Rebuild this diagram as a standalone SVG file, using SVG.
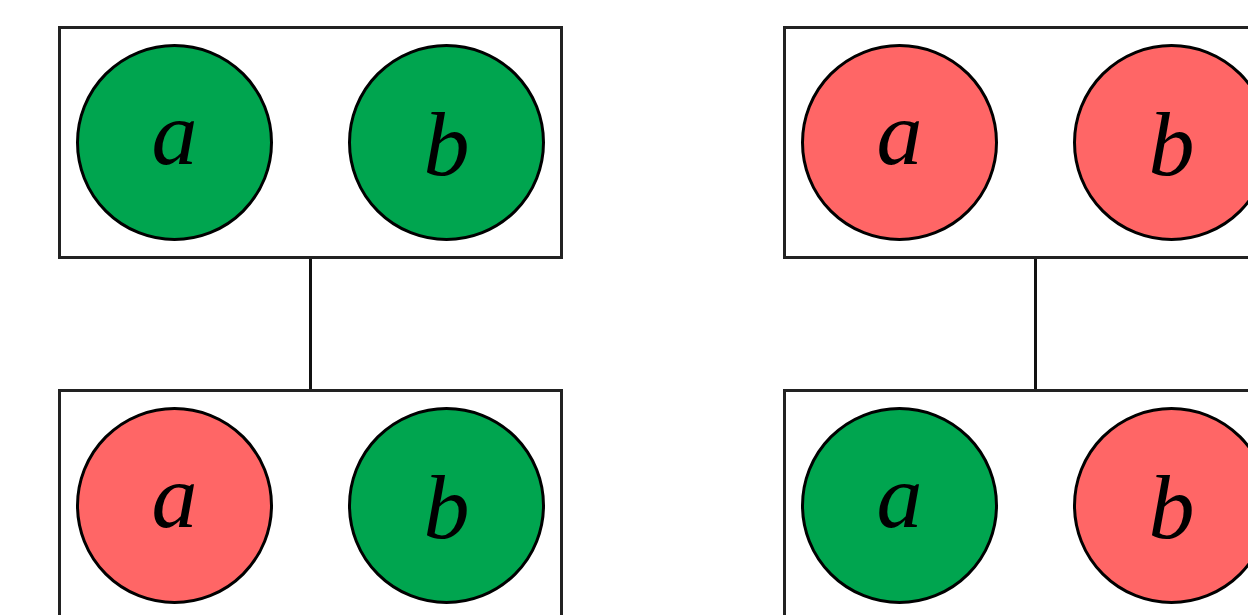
<svg xmlns="http://www.w3.org/2000/svg" width="1248" height="615" viewBox="0 0 1248 615">
<style>
.box{fill:none;stroke:#222;stroke-width:3}
.c{stroke:#000;stroke-width:3}
.g{fill:#00A54F}
.r{fill:#FF6666}
.t{font-family:"Liberation Serif","DejaVu Serif",serif;font-style:italic;font-size:92px;fill:#000;text-anchor:middle}
.conn{stroke:#111;stroke-width:3;fill:none}
</style>
<rect width="1248" height="615" fill="#fff"/>
<g id="connectors">
<line class="conn" x1="310.5" y1="258" x2="310.5" y2="390"/>
<line class="conn" x1="1035.5" y1="258" x2="1035.5" y2="390"/>
</g>
<g id="left-top">
<rect class="box" x="59.5" y="27.5" width="502" height="230"/>
<circle class="c g" cx="174.5" cy="142.5" r="97"/>
<text class="t" x="174.5" y="164">a</text>
<circle class="c g" cx="446.5" cy="142.5" r="97"/>
<text class="t" x="446.5" y="175">b</text>
</g>
<g id="left-bottom">
<rect class="box" x="59.5" y="390.5" width="502" height="230"/>
<circle class="c r" cx="174.5" cy="505.5" r="97"/>
<text class="t" x="174.5" y="527">a</text>
<circle class="c g" cx="446.5" cy="505.5" r="97"/>
<text class="t" x="446.5" y="538">b</text>
</g>
<g id="right-top">
<rect class="box" x="784.5" y="27.5" width="502" height="230"/>
<circle class="c r" cx="899.5" cy="142.5" r="97"/>
<text class="t" x="899.5" y="164">a</text>
<circle class="c r" cx="1171.5" cy="142.5" r="97"/>
<text class="t" x="1171.5" y="175">b</text>
</g>
<g id="right-bottom">
<rect class="box" x="784.5" y="390.5" width="502" height="230"/>
<circle class="c g" cx="899.5" cy="505.5" r="97"/>
<text class="t" x="899.5" y="527">a</text>
<circle class="c r" cx="1171.5" cy="505.5" r="97"/>
<text class="t" x="1171.5" y="538">b</text>
</g>
</svg>
